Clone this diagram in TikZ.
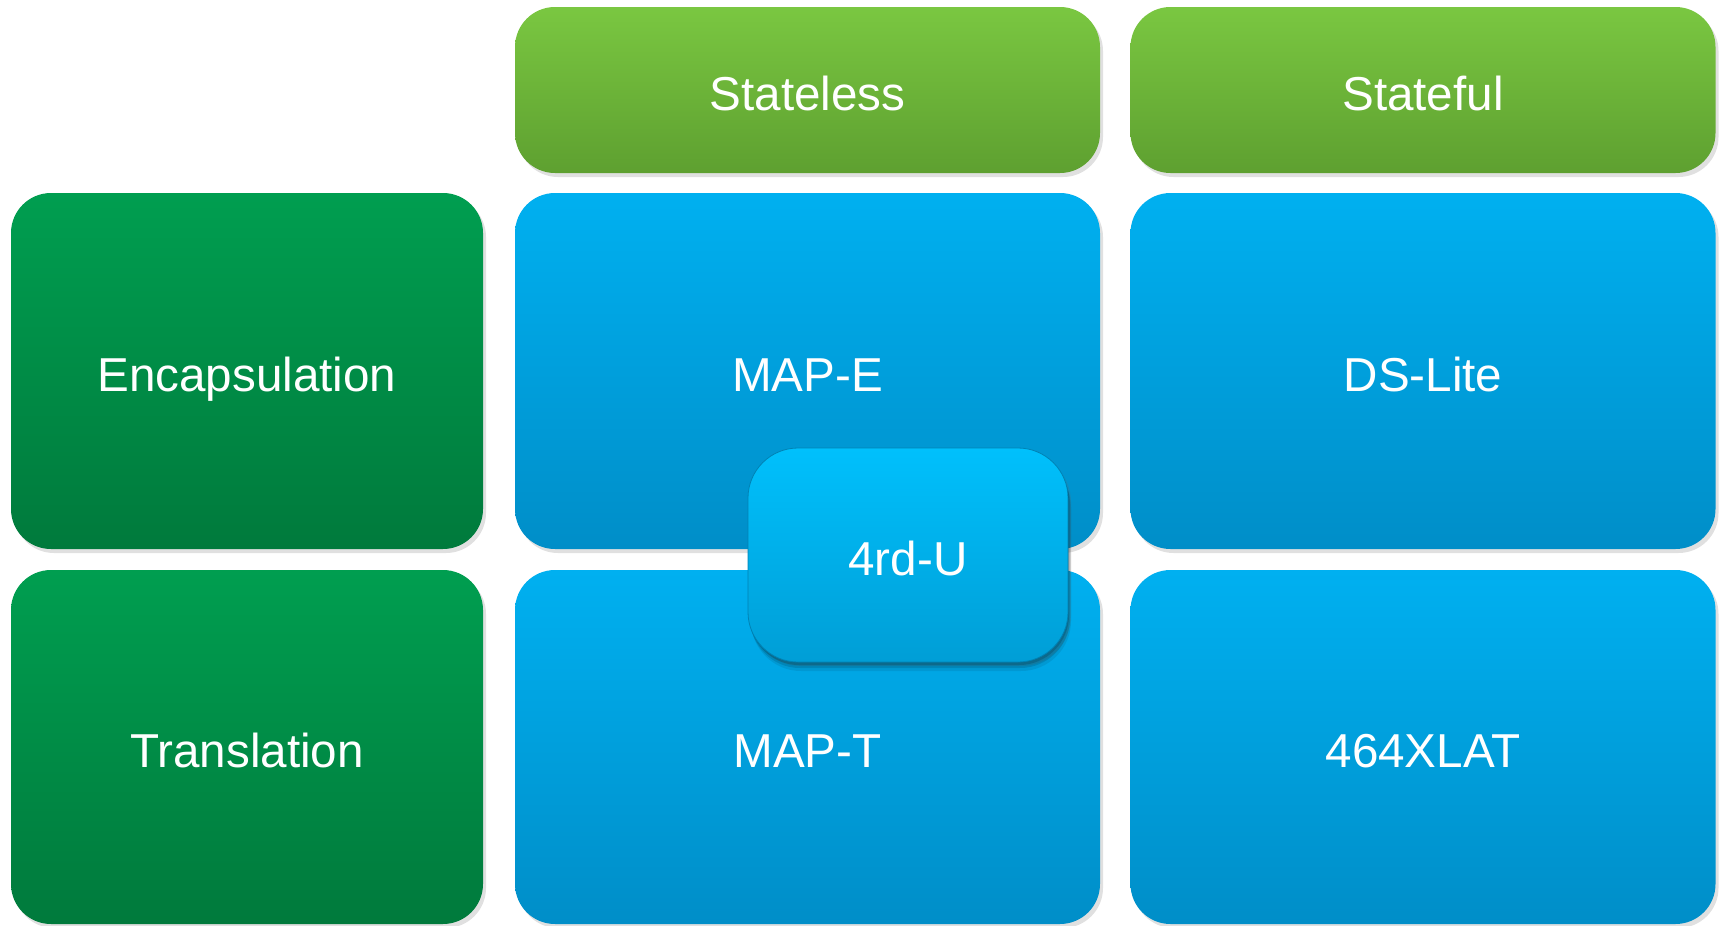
\documentclass[tikz,border=0pt]{standalone}
\usepackage{fontspec}
\setmainfont{Liberation Sans}
\usetikzlibrary{shadows}

\definecolor{headtop}{RGB}{122,199,65}
\definecolor{headbot}{RGB}{94,160,48}
\definecolor{rowtop}{RGB}{0,158,80}
\definecolor{rowbot}{RGB}{0,122,60}
\definecolor{celltop}{RGB}{0,176,240}
\definecolor{cellbot}{RGB}{0,142,200}
\definecolor{rdtop}{RGB}{0,192,252}
\definecolor{rdbot}{RGB}{0,158,214}
\definecolor{rdedge}{RGB}{0,130,180}

\tikzset{
  box/.style={rectangle, rounded corners=40pt, inner sep=0pt, outer sep=0pt,
    text=white, font=\fontsize{47.6}{57}\selectfont, text height=40pt, text depth=0pt,
    drop shadow={shadow xshift=3pt, shadow yshift=-4pt, opacity=0.2, fill=black!60}},
  headbox/.style={box, top color=headtop, bottom color=headbot,
    minimum width=585pt, minimum height=166pt},
  rowbox/.style={box, top color=rowtop, bottom color=rowbot,
    minimum width=472pt, minimum height=356pt},
  cellbox/.style={box, top color=celltop, bottom color=cellbot,
    minimum width=585pt, minimum height=356pt},
  rdbox/.style={box, rounded corners=50pt, top color=rdtop, bottom color=rdbot,
    draw=rdedge, line width=0.8pt, minimum width=320pt, minimum height=214pt,
    drop shadow={shadow xshift=1pt, shadow yshift=-3pt, opacity=0.15, fill=black},
    drop shadow={shadow xshift=2pt, shadow yshift=-6pt, opacity=0.12, fill=black},
    drop shadow={shadow xshift=3pt, shadow yshift=-9pt, opacity=0.08, fill=black}}
}

\begin{document}
\begin{tikzpicture}[x=1pt,y=-1pt]
        \useasboundingbox (0,0) rectangle (1725,926);

        % column heads
        \node[headbox] (stateless) at (807.5,90){Stateless};
        \node[headbox] (stateful) at (1423,90){Stateful};

        % row heads
        \node[rowbox] (encap) at (247,371){Encapsulation};
        \node[rowbox, minimum height=354pt] (transl) at (247,747){Translation};

        % cells
        \node[cellbox] (mape) at (807.5,371){MAP-E};
        \node[cellbox] (dslite) at (1423,371){DS-Lite};
        \node[cellbox, minimum height=354pt] (mapt) at (807.5,747){MAP-T};
        \node[cellbox, minimum height=354pt] (xlat) at (1423,747){464XLAT};

        % 4rd-U sits across both rows
        \node[rdbox] (rdu) at (908,555){4rd-U};

        \end{tikzpicture}
\end{document}
